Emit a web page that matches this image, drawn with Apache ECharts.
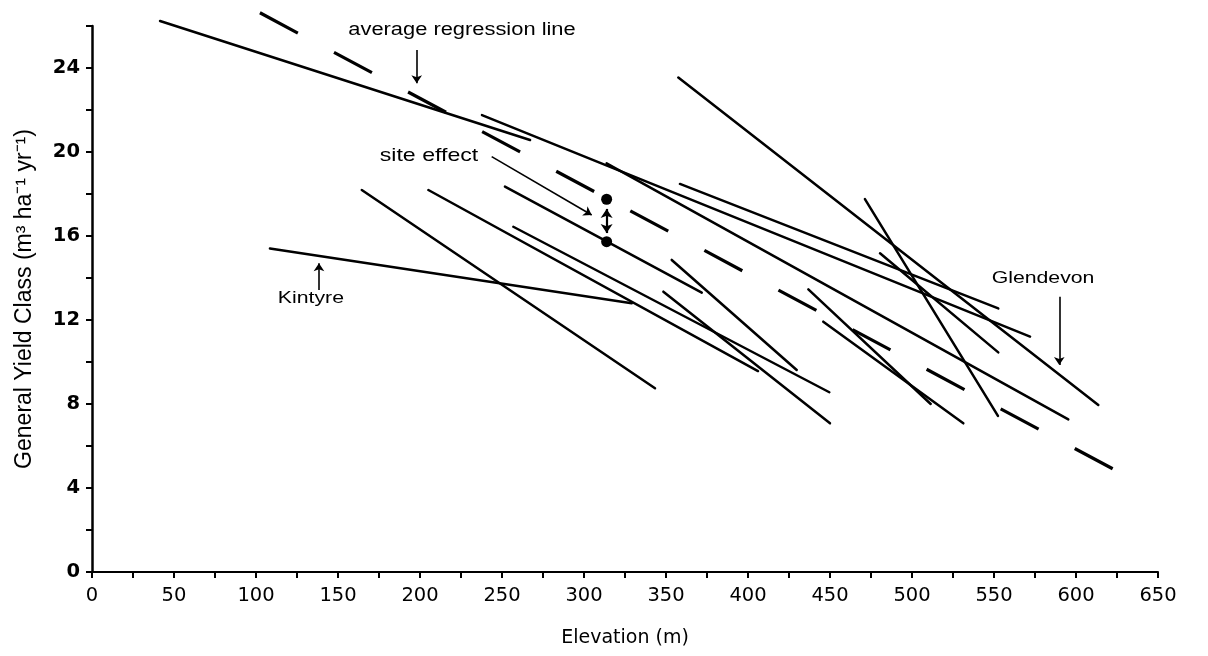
<!DOCTYPE html>
<html><head><meta charset="utf-8">
<script src="https://cdn.jsdelivr.net/npm/echarts@6/dist/echarts.min.js"></script>
<style>html,body{margin:0;padding:0;background:#fff}#c{width:1208px;height:656px}</style>
</head><body><div id="c"></div>
<script>
// Site regression lines: start / end elevation (m) and General Yield Class
const siteStartX = [41.5, 108.5, 164.5, 205.1, 237.8, 251.8, 256.9, 313.8, 348.4, 353.5, 357.5, 358.5, 471.3, 480.5, 436.8, 445.9];
const siteStartY = [26.24, 15.41, 18.19, 18.19, 21.76, 18.35, 16.44, 19.46, 13.35, 14.86, 23.55, 18.48, 17.76, 15.18, 13.46, 11.92];
const siteEndX   = [267.1, 329.1, 343.3, 406.1, 572.0, 371.8, 449.6, 595.3, 450.0, 429.7, 613.6, 552.6, 552.4, 552.6, 511.4, 531.3];
const siteEndY   = [20.57, 12.80, 8.75, 9.57, 11.21, 13.30, 8.56, 7.27, 7.08, 9.62, 7.95, 12.55, 7.43, 10.46, 8.00, 7.08];
// Average regression line (dashed)
const avgX = [102.4, 625.6];
const avgY = [26.63, 4.78];
// Site effect points (on average line and on site line)
const siteEffectX = [313.8, 313.8];
const siteEffectY = [17.75, 15.73];
// Tick labels
const xTickLabels = [0, 50, 100, 150, 200, 250, 300, 350, 400, 450, 500, 550, 600, 650];
const yTickLabels = [0, 4, 8, 12, 16, 20, 24];
// Annotation texts and their anchor (data coords)
const noteTexts = ['average regression line', 'site effect', 'Kintyre', 'Glendevon'];
const noteX = [225.6, 205.5, 133.5, 579.9];
const noteY = [25.81, 19.81, 13.05, 14.0];
// Annotation arrows: from (x0,y0) to (x1,y1), head at end
const arrowX0 = [198.0, 243.7, 138.4, 589.8];
const arrowY0 = [24.86, 19.78, 13.43, 13.11];
const arrowX1 = [198.0, 304.7, 138.4, 589.8];
const arrowY1 = [23.27, 17.00, 14.70, 9.86];
// Double arrow between the site effect points
const dblX = [313.8, 313.8];
const dblY = [17.29, 16.14];

const chart = echarts.init(document.getElementById('c'), null, {renderer: 'canvas'});
const black = '#000';
const series = [];
for (let i = 0; i < siteStartX.length; i++) {
  series.push({
    type: 'line', silent: true, symbol: 'none', animation: false, clip: false,
    data: [[siteStartX[i], siteStartY[i]], [siteEndX[i], siteEndY[i]]],
    lineStyle: {color: black, width: 2.5, cap: 'round', opacity: 1}
  });
}
series.push({
  type: 'line', silent: true, symbol: 'none', animation: false, clip: false,
  data: avgX.map((x, i) => [x, avgY[i]]),
  lineStyle: {color: black, width: 3.2, type: [43, 41], dashOffset: 0, cap: 'butt', opacity: 1}
});
series.push({
  type: 'lines', coordinateSystem: 'cartesian2d', silent: true, animation: false, clip: false,
  symbol: ['none', 'arrow'], symbolSize: 8,
  lineStyle: {color: black, width: 1.6, opacity: 1, curveness: 0},
  data: arrowX0.map((x, i) => ({coords: [[x, arrowY0[i]], [arrowX1[i], arrowY1[i]]]}))
});
series.push({
  type: 'lines', coordinateSystem: 'cartesian2d', silent: true, animation: false, clip: false,
  symbol: ['arrow', 'arrow'], symbolSize: 9,
  lineStyle: {color: black, width: 2.2, opacity: 1, curveness: 0},
  data: [{coords: [[dblX[0], dblY[0]], [dblX[1], dblY[1]]]}]
});
series.push({
  type: 'scatter', silent: true, animation: false, symbol: 'circle', symbolSize: 11, clip: false,
  itemStyle: {color: black, opacity: 1},
  data: siteEffectX.map((x, i) => [x, siteEffectY[i]])
});

chart.setOption({
  animation: false,
  backgroundColor: '#fff',
  grid: {left: 92, right: 50, top: 26, bottom: 84, containLabel: false},
  xAxis: {
    type: 'value', min: 0, max: 650, interval: 25,
    name: 'Elevation (m)', nameLocation: 'middle', nameGap: 57,
    nameTextStyle: {fontFamily: 'DejaVu Sans', fontSize: 19, color: black},
    axisLine: {show: true, onZero: false, lineStyle: {color: black, width: 2}},
    axisTick: {show: true, inside: false, length: 6, lineStyle: {color: black, width: 2}},
    axisLabel: {
      show: true, margin: 14, color: black, fontFamily: 'DejaVu Sans', fontSize: 19.5,
      formatter: v => xTickLabels.includes(v) ? String(v) : ''
    },
    splitLine: {show: false}
  },
  yAxis: {
    type: 'value', min: 0, max: 26, interval: 2,
    name: 'General Yield Class (m³ ha⁻¹ yr⁻¹)', nameLocation: 'middle', nameGap: 56,
    nameTextStyle: {fontFamily: 'Liberation Sans', fontSize: 23, color: black},
    axisLine: {show: true, onZero: false, lineStyle: {color: black, width: 2.5}},
    axisTick: {show: true, inside: false, length: 6, lineStyle: {color: black, width: 2}},
    axisLabel: {
      show: true, margin: 12, color: black, fontFamily: 'DejaVu Sans', fontWeight: 'bold', fontSize: 19.5,
      formatter: v => yTickLabels.includes(v) ? String(v) : ''
    },
    splitLine: {show: false}
  },
  series: series
});

const noteSize = [17.5, 18.5, 17, 17];
const graphics = noteTexts.map((t, i) => {
  const p = chart.convertToPixel({gridIndex: 0}, [noteX[i], noteY[i]]);
  return {
    type: 'text', x: p[0], y: p[1], scaleX: 1.25, silent: true, z: 100,
    style: {text: t, fill: black, font: noteSize[i] + 'px "Liberation Sans"', textAlign: 'center', textVerticalAlign: 'middle'}
  };
});
chart.setOption({graphic: graphics});
</script></body></html>
